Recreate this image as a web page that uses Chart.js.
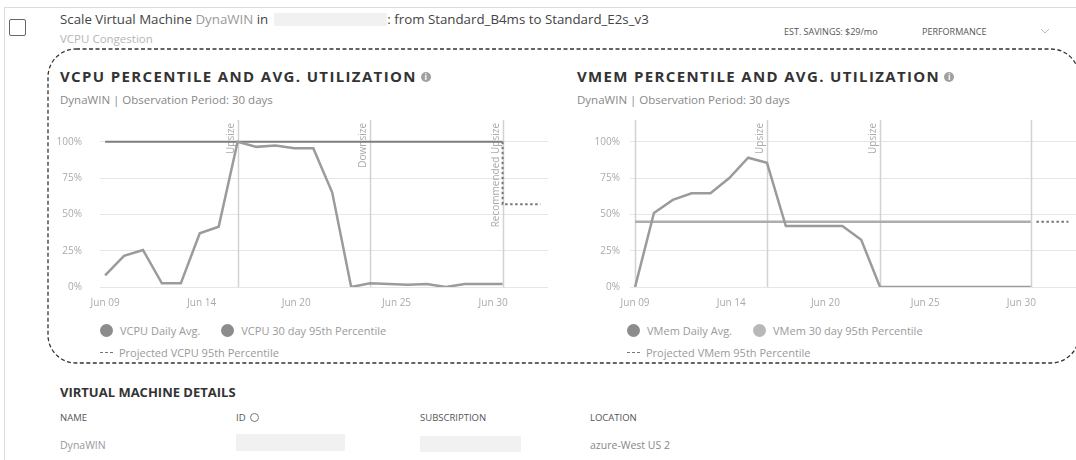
<!DOCTYPE html>
<html>
<head>
<meta charset="utf-8">
<script src="https://cdn.jsdelivr.net/npm/chart.js@4.4.1/dist/chart.umd.min.js"></script>
<style>
  body { margin: 0; width: 1076px; height: 460px; background: #fff; font-family: "Open Sans", "Noto Sans", sans-serif; overflow: hidden; position: relative; }
  .abs { position: absolute; white-space: nowrap; }
  .title { left: 60px; top: 10px; font-size: 13.3px; line-height: 18px; color: #444; }
  .title .vm { color: #999; }
  .redact { display: inline-block; width: 113px; height: 13px; background: #f1f1f1; vertical-align: -2px; margin-left: 6px; }
  .sub { font-size: 11.5px; color: #b5b5b5; }
  .small { font-size: 9px; color: #555; }
  .head { font-size: 15px; font-weight: 700; color: #333; letter-spacing: 1.35px; line-height: 20px; }
  .info { display: inline-block; width: 10px; height: 10px; border-radius: 50%; background: #a0a0a0; color: #fff; font-size: 8px; line-height: 10px; text-align: center; font-weight: 700; vertical-align: 2px; margin-left: 4px; letter-spacing: 0; }
  .obs { font-size: 11.5px; color: #888; }
  .box { position: absolute; }
  .legend { position: absolute; font-size: 11px; color: #9a9a9a; }
  .legend .row { height: 22px; display: flex; align-items: center; }
  .legend .item { display: flex; align-items: center; margin-right: 21px; }
  .legend .dot { width: 13px; height: 13px; border-radius: 50%; margin-right: 7px; }
  .legend .dash { width: 13px; height: 0; border-top: 1.5px dashed #777; margin-right: 6px; }
  .details { font-size: 13px; font-weight: 700; color: #333; }
  .col { font-size: 9.5px; color: #555; }
  .val { font-size: 10.5px; color: #999; }
</style>
</head>
<body>
<!-- card borders -->
<div class="box" style="left:4px;top:7px;width:1072px;height:1px;background:#dcdcdc"></div>
<div class="box" style="left:4px;top:7px;width:1px;height:453px;background:#dcdcdc"></div>
<div class="box" style="left:9px;top:19px;width:15px;height:15px;border:1.6px solid #666;border-radius:2px"></div>

<div class="abs title">Scale Virtual Machine <span class="vm">DynaWIN</span> in<span class="redact"></span>: from Standard_B4ms to Standard_E2s_v3</div>
<div class="abs sub" style="left:60px;top:31px">VCPU Congestion</div>
<div class="abs small" style="left:784px;top:25px">EST. SAVINGS: $29/mo</div>
<div class="abs small" style="left:922px;top:25px">PERFORMANCE</div>
<svg class="box" style="left:1040px;top:27px" width="10" height="8"><polyline points="1,2 5,6 9,2" fill="none" stroke="#bbb" stroke-width="1"/></svg>

<svg class="box" style="left:0;top:0" width="1076" height="460">
  <rect x="48" y="49" width="1031" height="314" rx="28" ry="28" fill="none" stroke="#333" stroke-width="1.3" stroke-dasharray="4 2.5"/>
</svg>

<div class="abs head" style="left:60px;top:66px">VCPU PERCENTILE AND AVG. UTILIZATION<span class="info">i</span></div>
<div class="abs obs" style="left:60px;top:92px">DynaWIN | Observation Period: 30 days</div>
<div class="abs head" style="left:577px;top:66px">VMEM PERCENTILE AND AVG. UTILIZATION<span class="info">i</span></div>
<div class="abs obs" style="left:577px;top:92px">DynaWIN | Observation Period: 30 days</div>

<div class="box" style="left:57px;top:112px;width:491px;height:196px"><canvas id="vcpuChart"></canvas></div>
<div class="box" style="left:594px;top:112px;width:482px;height:196px"><canvas id="vmemChart"></canvas></div>
<div class="legend" id="vcpuLegend" style="left:100px;top:319px"></div>
<div class="legend" id="vmemLegend" style="left:627px;top:319px"></div>

<div class="abs details" style="left:60px;top:383px">VIRTUAL MACHINE DETAILS</div>
<div class="abs col" style="left:60px;top:411px">NAME</div>
<div class="abs col" style="left:236px;top:411px">ID <span style="display:inline-block;width:7px;height:7px;border:1px solid #777;border-radius:50%;vertical-align:-1px;margin-left:2px"></span></div>
<div class="abs col" style="left:420px;top:411px">SUBSCRIPTION</div>
<div class="abs col" style="left:590px;top:411px">LOCATION</div>
<div class="abs val" style="left:60px;top:438px">DynaWIN</div>
<div class="box" style="left:236px;top:434px;width:109px;height:17px;background:#f1f1f1"></div>
<div class="box" style="left:420px;top:436px;width:101px;height:16px;background:#f1f1f1"></div>
<div class="abs val" style="left:590px;top:438px;color:#888">azure-West US 2</div>

<script>
// day index 0 = Jun 09, one point per day up to index 21
var xTickPos = [0, 5.1, 10.1, 15.4, 20.5];
var xTickLabels = ['Jun 09', 'Jun 14', 'Jun 20', 'Jun 25', 'Jun 30'];
var yTicks = [0, 25, 50, 75, 100];

var vcpuDailyAvg = [8, 21.5, 25.5, 2.5, 2.5, 37, 41.5, 100, 96.5, 97.5, 95.5, 95.5, 65, 0, 2.5, 2, 1.5, 2, 0, 2, 2, 2];
var vcpuPercentile = [100, 100, 100, 100, 100, 100, 100, 100, 100, 100, 100, 100, 100, 100, 100, 100, 100, 100, 100, 100, 100, 100];
var vcpuProjDays = [21, 23];
var vcpuProjected = [100, 57];
var vcpuEventDays = [7, 14, 21];
var vcpuEventLabels = ['Upsize', 'Downsize', 'Recommended Upsize'];

var vmemDailyAvg = [0, 51, 60, 64.5, 64.5, 75, 89, 85.5, 42, 42, 42, 42, 32.5, 0, 0, 0, 0, 0, 0, 0, 0, 0];
var vmemPercentile = [45, 45, 45, 45, 45, 45, 45, 45, 45, 45, 45, 45, 45, 45, 45, 45, 45, 45, 45, 45, 45, 45];
var vmemProjDays = [21.3, 23];
var vmemProjected = [45, 45];
var vmemEventDays = [0, 7, 13, 21];
var vmemEventLabels = ['', 'Upsize', 'Upsize', ''];

function toPoints(values, days) {
    return values.map(function (v, i) { return { x: days ? days[i] : i, y: v }; });
}

var eventLines = {
    id: 'eventLines',
    beforeDatasetsDraw: function (chart) {
        var ev = chart.options.plugins.eventLines;
        var x = chart.scales.x, area = chart.chartArea, c = chart.ctx;
        c.save();
        ev.days.forEach(function (d, i) {
            var px = Math.round(x.getPixelForValue(d)) + 0.5;
            c.strokeStyle = '#d2d2d2';
            c.lineWidth = 1.5;
            c.beginPath();
            c.moveTo(px, area.top);
            c.lineTo(px, area.bottom);
            c.stroke();
            if (ev.labels[i]) {
                c.save();
                c.translate(px - 2, area.top + 3);
                c.rotate(-Math.PI / 2);
                c.fillStyle = '#aaa';
                c.font = '10px "Open Sans"';
                c.textAlign = 'right';
                c.textBaseline = 'bottom';
                c.fillText(ev.labels[i], 0, 0);
                c.restore();
            }
        });
        c.restore();
    }
};

function makeChart(id, cfg) {
    return new Chart(document.getElementById(id).getContext('2d'), {
        type: 'line',
        data: {
            datasets: [{
                label: cfg.name + ' Daily Avg.',
                data: toPoints(cfg.avg),
                borderColor: '#9b9b9b',
                borderWidth: 2.5,
                legendColor: '#8c8c8c'
            }, {
                label: cfg.name + ' 30 day 95th Percentile',
                data: toPoints(cfg.pct),
                borderColor: cfg.pctColor,
                borderWidth: cfg.pctWidth,
                legendColor: cfg.pctLegend
            }, {
                label: 'Projected ' + cfg.name + ' 95th Percentile',
                data: toPoints(cfg.proj, cfg.projDays),
                borderColor: '#777',
                borderWidth: 2,
                borderDash: [2.5, 2.5],
                stepped: 'after',
                legendDash: true
            }]
        },
        options: {
            animation: false,
            responsive: true,
            maintainAspectRatio: false,
            layout: { padding: { top: 8, right: 0, left: 0, bottom: 0 } },
            elements: { point: { radius: 0 }, line: { tension: 0 } },
            plugins: {
                legend: { display: false },
                tooltip: { enabled: false },
                eventLines: { days: cfg.eventDays, labels: cfg.eventLabels }
            },
            scales: {
                x: {
                    type: 'linear',
                    min: -0.27,
                    max: 23.4,
                    grid: { display: false, drawTicks: false },
                    border: { display: false },
                    afterBuildTicks: function (axis) {
                        axis.ticks = xTickPos.map(function (v) { return { value: v }; });
                    },
                    afterFit: function (axis) {
                        axis.height = 21;
                        axis.paddingLeft = 0;
                        axis.paddingRight = 0;
                    },
                    ticks: {
                        autoSkip: false,
                        maxRotation: 0,
                        padding: 10,
                        color: '#aaa',
                        font: { family: 'Open Sans', size: 10 },
                        callback: function (v, i) { return xTickLabels[i]; }
                    }
                },
                y: {
                    min: 0,
                    max: 115,
                    afterBuildTicks: function (axis) {
                        axis.ticks = yTicks.map(function (v) { return { value: v }; });
                    },
                    afterFit: function (axis) {
                        axis.width = cfg.yWidth;
                        axis.paddingTop = 0;
                        axis.paddingBottom = 0;
                    },
                    grid: { color: '#e6e6e6', drawTicks: false },
                    border: { display: false },
                    ticks: {
                        padding: cfg.yPad,
                        color: '#aaa',
                        font: { family: 'Open Sans', size: 10 },
                        callback: function (v) { return v + '%'; }
                    }
                }
            }
        },
        plugins: [eventLines]
    });
}

function buildLegend(chart, el) {
    var ds = chart.data.datasets;
    var html = '<div class="row">';
    ds.forEach(function (d, i) {
        if (i === 2) html += '</div><div class="row">';
        var mark = d.legendDash ? '<span class="dash"></span>' :
            '<span class="dot" style="background:' + d.legendColor + '"></span>';
        html += '<span class="item">' + mark + d.label + '</span>';
    });
    el.innerHTML = html + '</div>';
}

var vcpuChart = makeChart('vcpuChart', {
    name: 'VCPU', avg: vcpuDailyAvg, pct: vcpuPercentile, proj: vcpuProjected, projDays: vcpuProjDays,
    pctColor: '#7d7d7d', pctWidth: 2, pctLegend: '#8c8c8c',
    eventDays: vcpuEventDays, eventLabels: vcpuEventLabels, yPad: 18, yWidth: 43
});
var vmemChart = makeChart('vmemChart', {
    name: 'VMem', avg: vmemDailyAvg, pct: vmemPercentile, proj: vmemProjected, projDays: vmemProjDays,
    pctColor: '#adadad', pctWidth: 2.5, pctLegend: '#b8b8b8',
    eventDays: vmemEventDays, eventLabels: vmemEventLabels, yPad: 10, yWidth: 36
});
buildLegend(vcpuChart, document.getElementById('vcpuLegend'));
buildLegend(vmemChart, document.getElementById('vmemLegend'));
</script>
</body>
</html>
